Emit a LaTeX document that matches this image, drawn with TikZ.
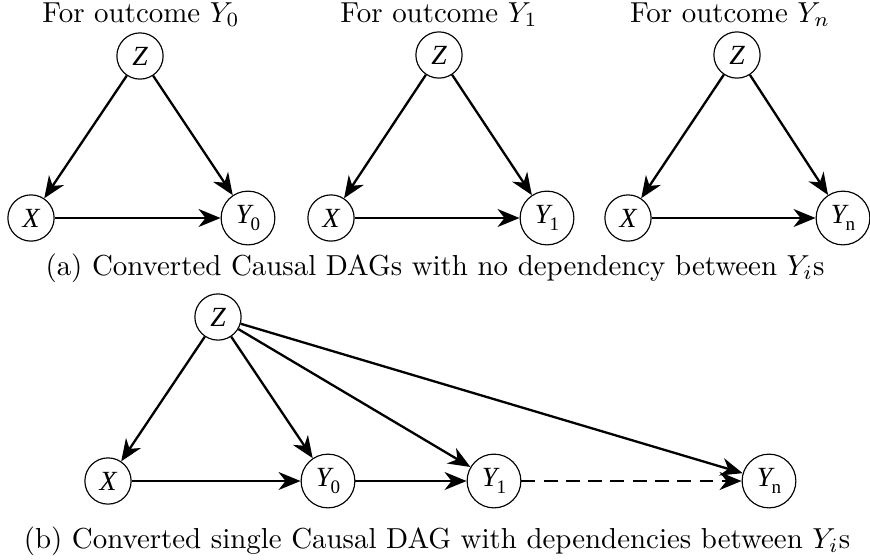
\documentclass[tikz,border=0pt]{standalone}
\usepackage{fontspec}
\newfontfamily\tnr{Liberation Serif}
\usetikzlibrary{arrows.meta}
\newcommand{\yv}[1]{{\tnr\itshape Y}\kern-0.3pt\raisebox{-2.3pt}{\tnr\fontsize{6.6}{7}\selectfont #1}}
\newcommand{\lv}[1]{{\tnr\itshape #1}}
\begin{document}
\begin{tikzpicture}[x=0.346pt,y=-0.346pt,
  var/.style={circle,draw,line width=0.4pt,minimum size=16pt,inner sep=0.3pt,font=\fontsize{9.6}{10}\selectfont},
  yvar/.style={var,minimum size=18.6pt},
  edge/.style={line width=0.8pt,-{Stealth[length=7.6pt,width=6.2pt,inset=2.4pt]}},
  dedge/.style={edge,dash pattern=on 4.8pt off 2.9pt},
  ttl/.style={font=\fontsize{10}{12}\selectfont,anchor=base}]
\useasboundingbox (0,0) rectangle (870,559);
% panel 1
\node[var]  (z1) at (140,56)  {\lv{Z}};
\node[var]  (x1) at (31,218)  {\lv{X}};
\node[yvar] (y1) at (248,218) {\yv{0}};
% panel 2
\node[var]  (z2) at (439,55)  {\lv{Z}};
\node[var]  (x2) at (331,218) {\lv{X}};
\node[yvar] (y2) at (547,218) {\yv{1}};
% panel 3
\node[var]  (z3) at (737,55)  {\lv{Z}};
\node[var]  (x3) at (628,218) {\lv{X}};
\node[yvar] (y3) at (843,218) {\yv{n}};
\foreach \i in {1,2,3}{
  \draw[edge] (z\i) -- (x\i);
  \draw[edge] (z\i) -- (y\i);
  \draw[edge] (x\i) -- (y\i);
}
\node[ttl] (t1) at (141,22) {For outcome $Y_0$};
\node[ttl] (t2) at (439,22) {For outcome $Y_1$};
\node[ttl] (t3) at (730,22) {For outcome $Y_n$};
\node[ttl] (ca) at (435,275) {(a) Converted Causal DAGs with no dependency between $Y_i$s};
% panel b
\node[var]  (zb)  at (218,317) {\lv{Z}};
\node[var]  (xb)  at (108,481) {\lv{X}};
\node[yvar] (yb0) at (328,481) {\yv{0}};
\node[yvar] (yb1) at (494,481) {\yv{1}};
\node[yvar] (ybn) at (769,481) {\yv{n}};
\draw[edge] (zb) -- (xb);
\draw[edge] (zb) -- (yb0);
\draw[edge] (zb) -- (yb1);
\draw[edge] (zb) -- (ybn);
\draw[edge] (xb) -- (yb0);
\draw[edge] (yb0) -- (yb1);
\draw[dedge] (yb1) -- (ybn);
\node[ttl] (cb) at (437,548) {(b) Converted single Causal DAG with dependencies between $Y_i$s};
\end{tikzpicture}
\end{document}
